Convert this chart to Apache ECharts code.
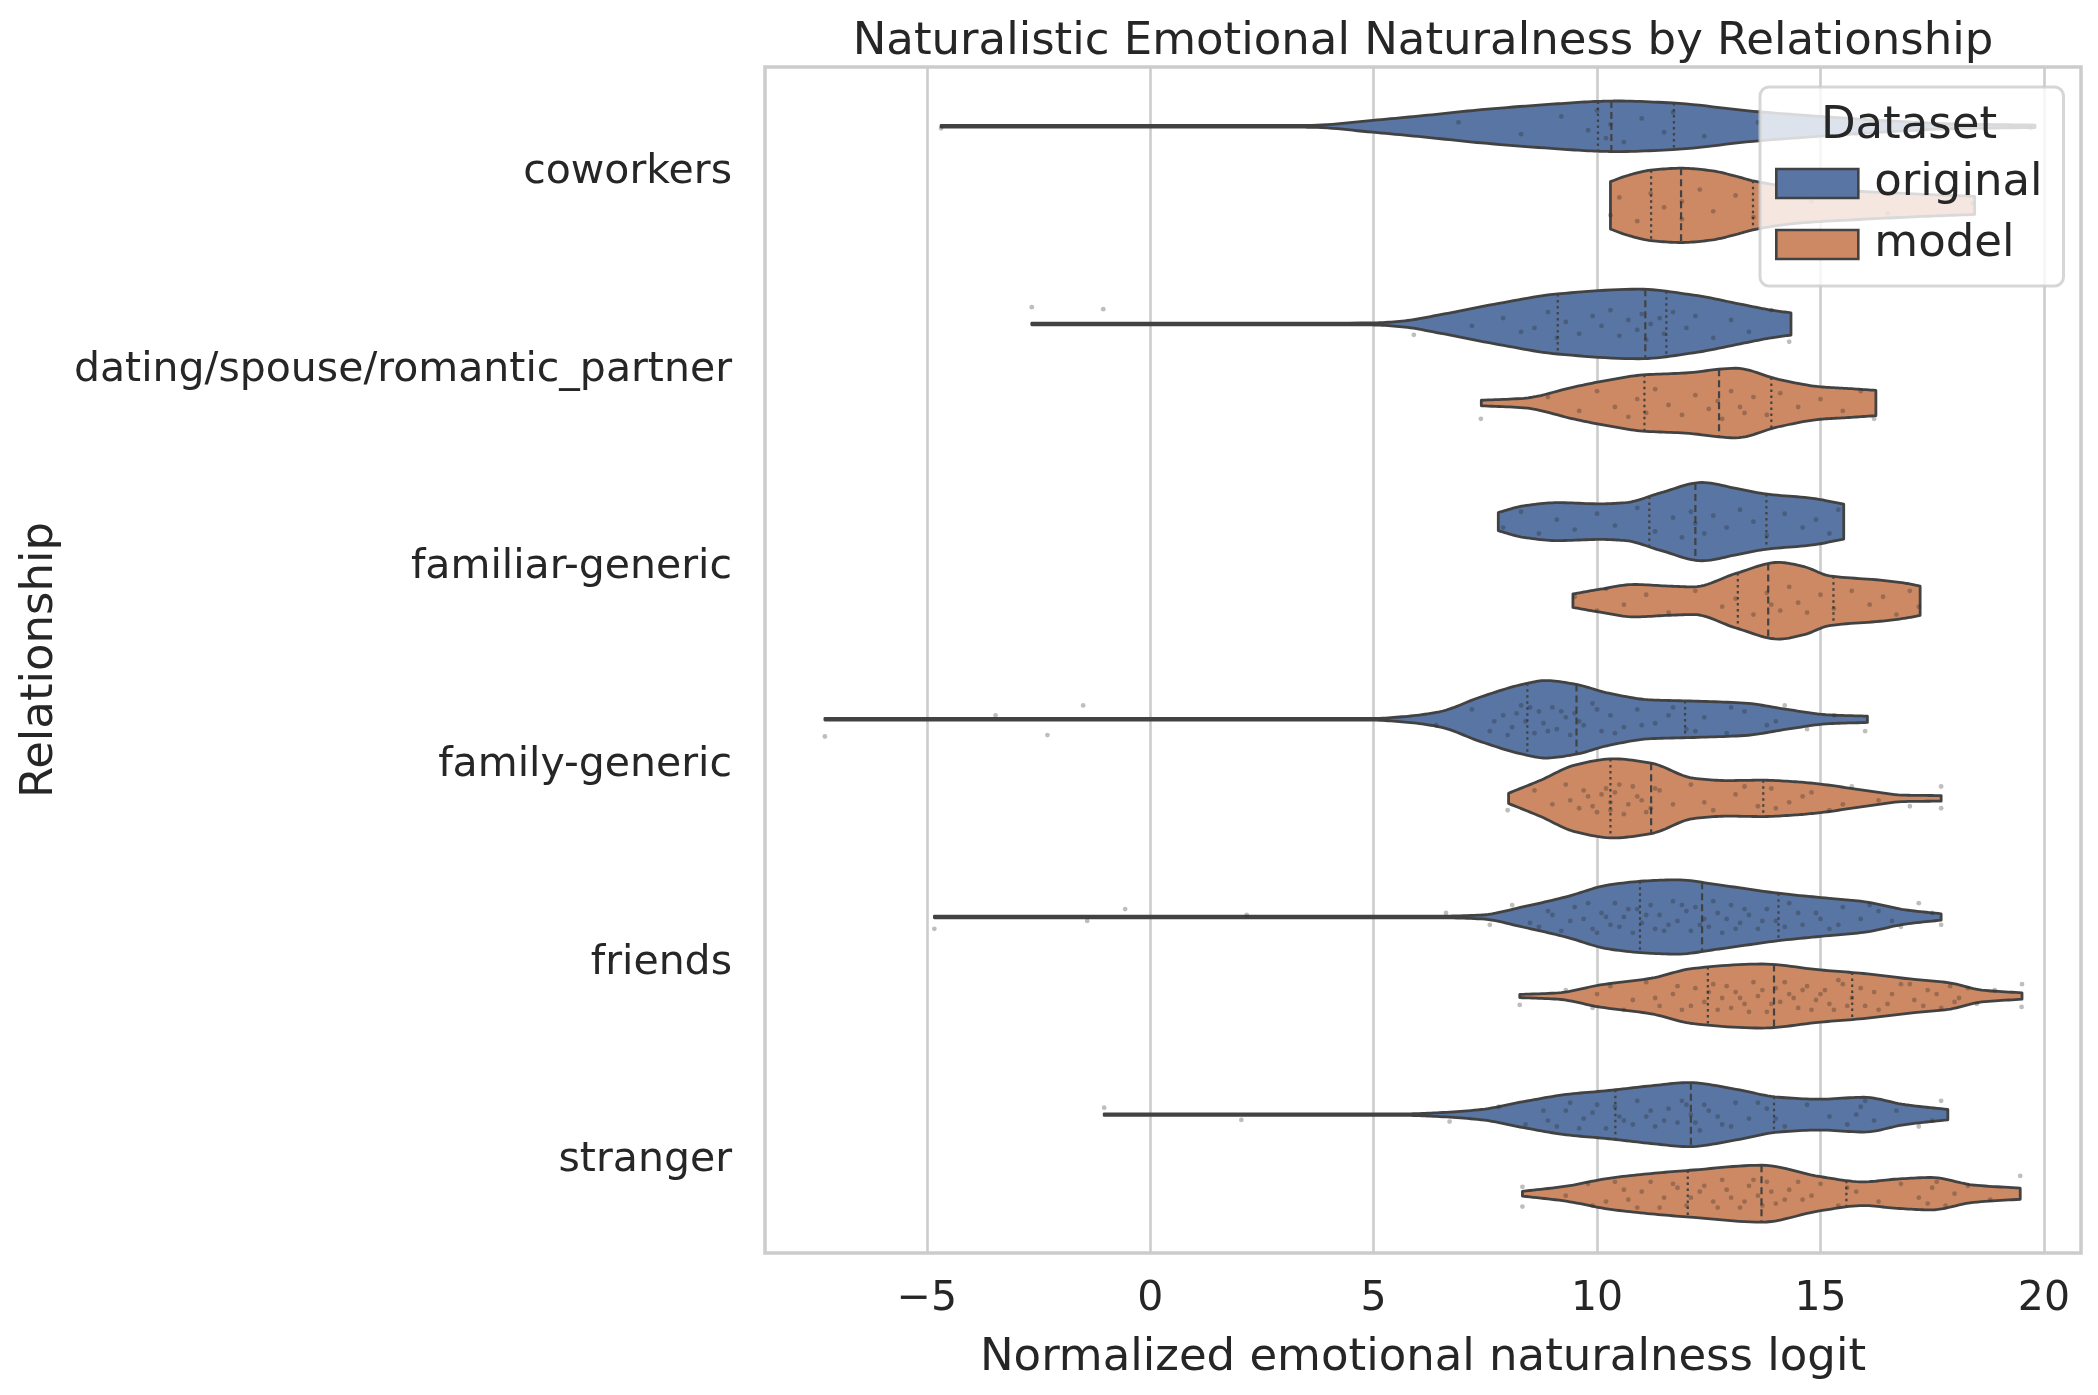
<!DOCTYPE html>
<html>
<head>
<meta charset="utf-8">
<script src="https://cdn.jsdelivr.net/npm/echarts@6/dist/echarts.min.js"></script>
<style>
html,body{margin:0;padding:0;background:#fff;}
#main{width:2098px;height:1395px;}
</style>
</head>
<body>
<div id="main"></div>
<script>
// categories and hues
var categories = ['coworkers', 'dating/spouse/romantic_partner', 'familiar-generic', 'family-generic', 'friends', 'stranger'];
var hueNames = ['original', 'model'];
var hueColors = ['#5875a3', '#cc8963'];
var xTicks = [-5, 0, 5, 10, 15, 20];

// violin outlines: [logit value, relative half width (1 = full dodge width)]
var cwOrig = [[-4.68,0.02],[0.0,0.02],[3.0,0.02],[3.62,0.025],[4.98,0.15],[6.2,0.28],[7.41,0.42],[9.12,0.57],[10.02,0.63],[10.45,0.64],[11.69,0.59],[13.49,0.38],[15.0,0.25],[16.5,0.14],[18.0,0.06],[19.8,0.03]];
var cwModel = [[10.3,0.6],[10.64,0.74],[11.2,0.89],[11.88,0.94],[12.54,0.88],[13.1,0.74],[13.49,0.62],[14.5,0.45],[16.0,0.35],[17.3,0.28],[18.45,0.23]];
var dtOrig = [[-2.65,0.02],[2.0,0.02],[4.95,0.025],[5.7,0.08],[6.47,0.23],[7.8,0.52],[9.12,0.76],[10.93,0.88],[12.16,0.73],[13.3,0.48],[13.9,0.35],[14.34,0.28]];
var dtModel = [[7.41,0.07],[8.36,0.12],[9.5,0.41],[10.26,0.58],[11.02,0.71],[11.97,0.76],[13.1,0.88],[14.06,0.6],[15.0,0.41],[15.58,0.37],[16.24,0.32]];
var fmOrig = [[7.79,0.23],[8.36,0.4],[9.12,0.48],[10.07,0.45],[10.64,0.48],[11.4,0.72],[12.35,0.99],[13.11,0.84],[13.77,0.7],[14.82,0.59],[15.52,0.44]];
var fmModel = [[9.46,0.17],[10.07,0.29],[10.83,0.41],[11.59,0.37],[12.16,0.35],[13.11,0.69],[14.06,0.97],[14.63,0.86],[15.2,0.63],[16.34,0.52],[16.91,0.44],[17.23,0.37]];
var fyOrig = [[-7.28,0.02],[0.0,0.02],[4.95,0.02],[5.7,0.07],[6.47,0.19],[7.41,0.57],[8.36,0.89],[8.84,0.98],[9.5,0.89],[10.26,0.66],[11.21,0.49],[12.16,0.46],[13.3,0.41],[14.25,0.25],[15.2,0.11],[16.05,0.08]];
var fyModel = [[8.02,0.13],[8.74,0.46],[9.5,0.84],[10.36,1.0],[11.21,0.89],[12.16,0.51],[12.92,0.45],[13.68,0.46],[14.44,0.42],[15.0,0.36],[15.95,0.21],[16.9,0.08],[17.7,0.07]];
var frOrig = [[-4.83,0.02],[0.0,0.02],[6.47,0.02],[7.41,0.05],[8.36,0.26],[9.31,0.51],[10.26,0.81],[11.21,0.92],[11.78,0.94],[12.73,0.81],[14.06,0.6],[15.2,0.47],[15.96,0.39],[16.9,0.18],[17.7,0.08]];
var frModel = [[8.27,0.04],[9.12,0.08],[10.07,0.28],[11.21,0.45],[12.16,0.7],[13.68,0.81],[15.0,0.66],[15.96,0.57],[17.1,0.42],[17.85,0.34],[18.61,0.15],[19.51,0.08]];
var stOrig = [[-1.03,0.02],[5.7,0.02],[6.47,0.05],[7.41,0.13],[8.36,0.33],[9.31,0.51],[10.26,0.61],[11.21,0.73],[12.06,0.81],[13.11,0.64],[14.06,0.44],[15.0,0.39],[15.96,0.44],[16.9,0.25],[17.85,0.13]];
var stModel = [[8.33,0.06],[9.31,0.19],[10.26,0.39],[11.21,0.51],[12.16,0.6],[13.68,0.72],[15.0,0.43],[15.96,0.3],[16.71,0.37],[17.47,0.41],[18.42,0.22],[19.47,0.14]];

// quartiles [q1, median, q3]
var cwOrigQ = [10.02, 10.32, 11.72];
var cwModelQ = [11.21, 11.88, 13.49];
var dtOrigQ = [9.12, 11.08, 11.55];
var dtModelQ = [11.06, 12.73, 13.9];
var fmOrigQ = [11.17, 12.2, 13.79];
var fmModelQ = [13.15, 13.83, 15.29];
var fyOrigQ = [8.44, 9.54, 11.97];
var fyModelQ = [10.3, 11.21, 13.72];
var frOrigQ = [10.96, 12.35, 14.06];
var frModelQ = [12.48, 13.96, 15.71];
var stOrigQ = [10.41, 12.1, 13.96];
var stModelQ = [12.03, 13.68, 15.58];

// strip points: [logit value, jitter (-1..1)]
var cwOrigPts = [[-4.68,0.1],[6.9,-0.2],[8.3,0.4],[9.2,-0.5],[9.8,0.2],[10.0,-0.8],[10.2,0.6],[10.3,-0.1],[10.6,0.8],[11.0,-0.4],[11.5,0.3],[11.7,-0.7],[12.4,0.5],[13.6,-0.2],[15.8,0.4],[17.2,-0.3],[19.7,0.1]];
var cwModelPts = [[10.3,0.5],[10.5,-0.4],[10.9,0.8],[11.2,-0.6],[11.5,0.1],[11.9,0.7],[11.9,-0.2],[12.3,-0.8],[12.6,0.3],[13.1,-0.5],[13.5,0.6],[14.8,-0.2],[16.5,0.4],[18.4,-0.1]];
var dtOrigPts = [[-2.65,-0.85],[-1.05,-0.75],[5.9,0.55],[7.2,0.1],[7.9,-0.3],[8.3,0.4],[8.6,0.2],[8.9,-0.6],[9.1,0.7],[9.3,-0.1],[9.6,0.5],[9.9,-0.4],[10.1,0.1],[10.3,-0.7],[10.5,0.6],[10.7,-0.2],[10.9,0.3],[11.0,-0.5],[11.1,0.8],[11.2,0.0],[11.4,-0.3],[11.5,0.5],[11.7,-0.6],[12.0,0.2],[12.2,-0.4],[12.6,0.7],[13.0,-0.2],[13.4,0.4],[13.9,-0.7],[14.3,0.9]];
var dtModelPts = [[7.4,0.8],[8.9,-0.3],[9.6,0.4],[10.0,-0.6],[10.4,0.2],[10.7,0.7],[10.9,-0.2],[11.1,0.5],[11.3,-0.7],[11.6,0.1],[11.9,0.6],[12.2,-0.4],[12.5,0.3],[12.7,-0.1],[12.8,0.8],[13.0,-0.6],[13.2,0.2],[13.3,0.5],[13.5,-0.3],[13.8,0.6],[14.1,-0.5],[14.5,0.2],[15.0,-0.2],[15.5,0.4],[15.9,-0.6],[16.2,0.8]];
var fmOrigPts = [[7.9,0.3],[8.3,-0.5],[8.7,0.6],[9.1,-0.1],[9.5,0.4],[10.0,-0.4],[10.4,0.2],[10.9,-0.7],[11.3,0.5],[11.7,-0.2],[11.9,0.8],[12.1,-0.5],[12.2,0.1],[12.4,0.6],[12.6,-0.3],[12.9,0.3],[13.2,-0.6],[13.5,0.0],[13.8,0.7],[14.2,-0.4],[14.6,0.3],[14.9,-0.1],[15.2,0.6],[15.4,-0.6]];
var fmModelPts = [[9.5,-0.2],[10.0,0.5],[10.2,-0.6],[10.6,0.2],[11.1,-0.3],[11.6,0.6],[12.2,-0.5],[12.8,0.3],[13.1,-0.1],[13.5,0.7],[13.8,-0.4],[13.9,0.2],[14.1,0.5],[14.3,-0.7],[14.5,0.1],[14.7,0.6],[15.0,-0.3],[15.3,0.4],[15.7,-0.5],[16.1,0.2],[16.4,-0.2],[16.7,0.7],[17.0,-0.5],[17.2,0.3]];
var fyOrigPts = [[-7.28,0.87],[-3.46,-0.2],[-2.3,0.8],[-1.5,-0.7],[6.4,0.3],[7.2,-0.5],[7.6,0.6],[7.9,-0.2],[8.1,0.4],[8.3,-0.7],[8.4,0.1],[8.6,0.7],[8.7,-0.4],[8.8,0.2],[9.0,-0.6],[9.1,0.5],[9.3,-0.1],[9.4,0.8],[9.5,-0.3],[9.7,0.3],[9.9,-0.8],[10.1,0.6],[10.3,-0.2],[10.6,0.4],[10.9,-0.5],[11.3,0.2],[11.7,-0.6],[12.0,0.5],[12.4,-0.1],[12.9,0.7],[13.3,-0.4],[13.8,0.3],[14.2,-0.7],[14.7,0.5],[15.3,-0.2],[16.0,0.6],
  [7.7,0.1],[8.0,0.8],[8.2,-0.3],[8.5,-0.6],[8.9,0.6],[9.2,-0.4],[9.6,0.1],[10.0,-0.5],[10.4,0.7],[11.0,0.3],[11.6,-0.2],[12.2,0.6],[13.0,-0.6],[14.0,0.1]];
var fyModelPts = [[8.0,0.6],[8.6,-0.4],[9.0,0.3],[9.3,-0.7],[9.6,0.5],[9.8,-0.1],[10.0,0.7],[10.2,-0.5],[10.3,0.2],[10.4,-0.3],[10.6,0.8],[10.8,-0.6],[11.0,0.1],[11.2,0.5],[11.4,-0.4],[11.7,0.3],[12.1,-0.7],[12.6,0.6],[13.1,-0.2],[13.6,0.4],[13.9,-0.5],[14.3,0.2],[14.8,-0.3],[15.2,0.6],[15.7,-0.6],[16.3,0.1],[17.0,0.4],[17.7,-0.6],[17.7,0.5],
  [9.4,0.1],[9.7,-0.4],[9.9,0.4],[10.1,-0.2],[10.3,0.6],[10.5,-0.7],[10.7,0.3],[10.9,-0.1],[11.1,0.7],[11.3,-0.5],[12.4,0.2],[13.3,-0.6],[14.0,0.5],[14.6,-0.1],[15.5,0.3]];
var frOrigPts = [[-4.83,0.6],[-1.41,0.2],[-0.56,-0.4],[2.16,-0.1],[6.62,-0.2],[7.6,0.4],[8.1,-0.6],[8.5,0.3],[8.9,-0.3],[9.2,0.7],[9.5,-0.5],[9.7,0.1],[9.9,0.6],[10.1,-0.2],[10.3,0.4],[10.4,-0.7],[10.6,0.0],[10.8,0.8],[10.9,-0.4],[11.0,0.3],[11.2,-0.6],[11.3,0.6],[11.4,-0.1],[11.6,0.4],[11.7,-0.8],[11.8,0.2],[12.0,-0.3],[12.1,0.7],[12.2,-0.5],[12.4,0.1],[12.5,0.5],[12.7,-0.2],[12.8,0.8],[13.0,-0.6],[13.2,0.3],[13.4,-0.1],[13.6,0.6],[13.8,-0.4],[14.0,0.2],[14.3,-0.7],[14.6,0.4],[14.9,-0.2],[15.2,0.6],[15.5,-0.5],[15.9,0.1],[16.3,-0.3],[16.8,0.5],[17.2,-0.7],[17.7,0.4],
  [8.7,0.5],[9.0,-0.1],[9.4,0.2],[9.8,-0.7],[10.0,0.8],[10.2,0.0],[10.5,0.5],[10.7,-0.4],[11.1,-0.1],[11.5,0.7],[11.9,-0.6],[12.3,0.4],[12.6,-0.8],[12.9,0.1],[13.1,0.6],[13.3,-0.4],[13.7,0.2],[14.2,0.5],[14.5,-0.2],[15.0,0.1],[15.4,0.4],[16.1,-0.6],[16.6,0.2],[17.5,-0.2]];
var frModelPts = [[8.27,0.45],[9.3,-0.3],[9.9,0.6],[10.3,-0.5],[10.8,0.2],[11.1,-0.7],[11.4,0.5],[11.7,-0.1],[11.9,0.7],[12.2,-0.4],[12.4,0.3],[12.6,-0.6],[12.8,0.1],[13.0,0.6],[13.1,-0.2],[13.3,0.4],[13.5,-0.7],[13.6,0.0],[13.8,0.8],[14.0,-0.4],[14.1,0.3],[14.3,-0.1],[14.5,0.6],[14.7,-0.5],[14.9,0.2],[15.1,-0.3],[15.3,0.7],[15.5,-0.6],[15.7,0.1],[16.0,0.5],[16.2,-0.2],[16.5,0.4],[16.8,-0.6],[17.1,0.2],[17.4,-0.3],[17.7,0.6],[17.9,-0.5],[18.1,0.1],[18.5,0.4],[18.9,-0.3],[19.51,-0.6],[19.5,0.55],
  [10.0,-0.1],[10.6,0.7],[11.3,0.1],[11.8,-0.5],[12.1,0.5],[12.5,-0.2],[12.7,0.7],[12.9,-0.5],[13.2,0.1],[13.4,0.8],[13.7,-0.3],[13.9,0.4],[14.2,-0.7],[14.4,0.1],[14.6,-0.3],[14.8,0.7],[15.0,-0.1],[15.2,0.4],[15.4,-0.8],[15.6,0.5],[15.9,-0.4],[16.3,0.7],[16.6,-0.1],[17.0,-0.6],[17.3,0.5],[17.6,-0.1],[18.0,0.3],[18.3,-0.4]];
var stOrigPts = [[-1.03,-0.35],[2.04,0.27],[6.7,0.35],[7.8,-0.4],[8.4,0.5],[8.8,-0.2],[9.1,0.6],[9.4,-0.6],[9.7,0.2],[9.9,-0.1],[10.2,0.7],[10.4,-0.4],[10.6,0.3],[10.9,-0.7],[11.1,0.1],[11.3,0.6],[11.6,-0.3],[11.8,0.4],[12.0,-0.5],[12.1,0.0],[12.3,0.8],[12.5,-0.2],[12.8,0.5],[13.1,-0.6],[13.4,0.2],[13.8,-0.3],[14.2,0.6],[14.7,-0.5],[15.2,0.1],[15.6,0.5],[15.9,-0.4],[16.2,0.3],[16.7,-0.2],[17.2,0.6],[17.7,-0.7],
  [8.9,0.3],[9.3,-0.2],[9.6,0.7],[10.0,-0.5],[10.5,0.1],[10.8,0.5],[11.2,-0.2],[11.5,0.3],[11.9,-0.7],[12.2,0.4],[12.4,-0.5],[12.7,0.1],[13.0,0.6],[13.6,-0.6],[14.0,0.2],[15.8,0.0],[16.0,-0.7],[17.5,0.3]];
var stModelPts = [[8.33,-0.35],[8.33,0.65],[9.3,0.1],[9.8,-0.5],[10.2,0.4],[10.6,-0.2],[10.9,0.7],[11.2,-0.6],[11.5,0.2],[11.8,-0.3],[12.0,0.6],[12.3,-0.1],[12.6,0.4],[12.8,-0.7],[13.0,0.2],[13.2,0.7],[13.4,-0.4],[13.6,0.1],[13.8,-0.6],[14.0,0.5],[14.3,-0.2],[14.6,0.3],[15.0,-0.5],[15.4,0.6],[15.8,-0.1],[16.3,0.4],[16.8,-0.5],[17.2,0.2],[17.5,-0.3],[17.8,0.6],[18.3,-0.4],[18.8,0.3],[19.47,-0.9],
  [9.9,0.6],[10.4,-0.6],[10.7,0.3],[11.0,-0.1],[11.4,0.7],[11.7,-0.5],[12.1,0.2],[12.4,-0.4],[12.7,0.7],[12.9,-0.2],[13.3,0.4],[13.5,-0.7],[13.7,0.6],[13.9,-0.1],[14.2,0.3],[14.5,-0.6],[14.8,0.1],[15.6,-0.3],[17.4,0.5],[17.6,-0.6],[18.0,0.0]];

var shapes = [[cwOrig, dtOrig, fmOrig, fyOrig, frOrig, stOrig], [cwModel, dtModel, fmModel, fyModel, frModel, stModel]];
var quarts = [[cwOrigQ, dtOrigQ, fmOrigQ, fyOrigQ, frOrigQ, stOrigQ], [cwModelQ, dtModelQ, fmModelQ, fyModelQ, frModelQ, stModelQ]];
var strips = [[cwOrigPts, dtOrigPts, fmOrigPts, fyOrigPts, frOrigPts, stOrigPts], [cwModelPts, dtModelPts, fmModelPts, fyModelPts, frModelPts, stModelPts]];

var edgeColor = '#424242';
var textColor = '#262626';
var fontName = 'DejaVu Sans';

// monotone cubic smoothing of an outline (pixel space)
function smoothEdge(p) {
  var n = p.length, i, k;
  var xs = p.map(function (d) { return d[0]; });
  var ys = p.map(function (d) { return d[1]; });
  var m = [], t = [];
  for (i = 0; i < n - 1; i++) m.push((ys[i + 1] - ys[i]) / ((xs[i + 1] - xs[i]) || 1e-6));
  t[0] = m[0]; t[n - 1] = m[n - 2];
  for (i = 1; i < n - 1; i++) {
    if (m[i - 1] * m[i] <= 0) { t[i] = 0; }
    else {
      var h0 = xs[i] - xs[i - 1], h1 = xs[i + 1] - xs[i];
      var w1 = 2 * h1 + h0, w2 = h1 + 2 * h0;
      t[i] = (w1 + w2) / (w1 / m[i - 1] + w2 / m[i]);
    }
  }
  var out = [];
  for (i = 0; i < n - 1; i++) {
    var h = xs[i + 1] - xs[i];
    for (k = 0; k < 12; k++) {
      var s = k / 12, s2 = s * s, s3 = s2 * s;
      var y = (2 * s3 - 3 * s2 + 1) * ys[i] + (s3 - 2 * s2 + s) * h * t[i] + (-2 * s3 + 3 * s2) * ys[i + 1] + (s3 - s2) * h * t[i + 1];
      out.push([xs[i] + s * h, Math.max(y, 0.8)]);
    }
  }
  out.push([xs[n - 1], Math.max(ys[n - 1], 0.8)]);
  return out;
}

function widthAt(edge, x) {
  for (var i = 0; i < edge.length - 1; i++) {
    if (x >= edge[i][0] && x <= edge[i + 1][0]) {
      var f = (x - edge[i][0]) / ((edge[i + 1][0] - edge[i][0]) || 1);
      return edge[i][1] + f * (edge[i + 1][1] - edge[i][1]);
    }
  }
  return 0;
}

function violinRenderer(hue) {
  return function (params, api) {
    var ci = api.value(0);
    var band = api.size([0, 1])[1];
    var cy = api.coord([0, ci])[1] + (hue === 0 ? -0.2 : 0.2) * band;
    var half = 0.2 * band;
    var px = shapes[hue][ci].map(function (d) {
      return [api.coord([d[0], ci])[0], d[1] * half];
    });
    var edge = smoothEdge(px);
    var poly = [], i;
    for (i = 0; i < edge.length; i++) poly.push([edge[i][0], cy - edge[i][1]]);
    for (i = edge.length - 1; i >= 0; i--) poly.push([edge[i][0], cy + edge[i][1]]);
    var children = [{
      type: 'polygon',
      shape: { points: poly },
      style: { fill: hueColors[hue], stroke: edgeColor, lineWidth: 2.8, lineJoin: 'round' }
    }];
    quarts[hue][ci].forEach(function (q, k) {
      var x = api.coord([q, ci])[0];
      var w = widthAt(edge, x);
      children.push({
        type: 'line',
        shape: { x1: x, y1: cy - w, x2: x, y2: cy + w },
        style: { stroke: edgeColor, lineWidth: 2.2, lineDash: k === 1 ? [7, 4] : [2.5, 3.5] }
      });
    });
    return { type: 'group', children: children };
  };
}

function stripRenderer(params, api) {
  var p = api.coord([api.value(0), api.value(1)]);
  var band = api.size([0, 1])[1];
  var hue = api.value(2);
  var cy = p[1] + (hue === 0 ? -0.2 : 0.2) * band + api.value(3) * 0.1 * band;
  return { type: 'circle', shape: { cx: p[0], cy: cy, r: 2.4 }, style: { fill: 'rgba(40,40,40,0.3)' } };
}

var stripData = [];
strips.forEach(function (byCat, hue) {
  byCat.forEach(function (list, ci) {
    list.forEach(function (d) { stripData.push([d[0], ci, hue, d[1]]); });
  });
});

var myChart = echarts.init(document.getElementById('main'));

var option = {
  animation: false,
  backgroundColor: '#ffffff',
  title: {
    text: 'Naturalistic Emotional Naturalness by Relationship',
    left: 1423,
    top: 20,
    textAlign: 'center',
    padding: 0,
    textStyle: { fontSize: 45, fontWeight: 'normal', color: textColor, fontFamily: fontName }
  },
  legend: {
    orient: 'vertical',
    left: 1760,
    top: 87,
    padding: [74, 21, 19, 15],
    itemWidth: 82,
    itemHeight: 29,
    itemGap: 16,
    backgroundColor: 'rgba(255,255,255,0.8)',
    borderColor: 'rgba(204,204,204,0.8)',
    borderWidth: 3,
    borderRadius: 9,
    textStyle: { fontSize: 45, color: textColor, fontFamily: fontName, padding: [0, 0, 0, 11] },
    data: [
      { name: 'original', icon: 'rect', itemStyle: { color: hueColors[0], borderColor: edgeColor, borderWidth: 2.6 } },
      { name: 'model', icon: 'rect', itemStyle: { color: hueColors[1], borderColor: edgeColor, borderWidth: 2.6 } }
    ]
  },
  graphic: [{
    type: 'text',
    z: 100,
    x: 1909,
    y: 104,
    style: { text: 'Dataset', fontSize: 45, fill: textColor, fontFamily: fontName, align: 'center', verticalAlign: 'top' }
  }],
  grid: {
    left: 765, right: 17, top: 67, bottom: 142,
    show: true, borderColor: '#cccccc', borderWidth: 3.5, backgroundColor: 'transparent'
  },
  xAxis: {
    type: 'value',
    min: -8.62,
    max: 20.83,
    name: 'Normalized emotional naturalness logit',
    nameLocation: 'middle',
    nameGap: 83,
    nameTextStyle: { fontSize: 45, color: textColor, fontFamily: fontName },
    axisLine: { show: false },
    axisTick: { show: false, customValues: xTicks },
    axisLabel: {
      customValues: xTicks,
      margin: 26,
      fontSize: 41, color: textColor, fontFamily: fontName,
      formatter: function (v) { return v < 0 ? '\u2212' + Math.abs(v) : String(v); }
    },
    splitLine: { show: true, lineStyle: { color: '#cccccc', width: 2.6 } }
  },
  yAxis: {
    type: 'category',
    data: categories,
    inverse: true,
    name: 'Relationship',
    nameLocation: 'middle',
    nameGap: 696,
    nameRotate: 90,
    nameTextStyle: { fontSize: 45, color: textColor, fontFamily: fontName },
    axisLine: { show: false },
    axisTick: { show: false },
    splitLine: { show: false },
    axisLabel: {
      margin: 33,
      formatter: '{c|{value}}',
      rich: { c: { fontSize: 41, color: textColor, fontFamily: fontName, padding: [13, 0, 0, 0] } }
    }
  },
  series: [
    {
      name: 'original', type: 'custom', renderItem: violinRenderer(0), z: 2,
      itemStyle: { color: hueColors[0], borderColor: edgeColor },
      encode: { y: 0 }, data: [[0], [1], [2], [3], [4], [5]]
    },
    {
      name: 'model', type: 'custom', renderItem: violinRenderer(1), z: 2,
      itemStyle: { color: hueColors[1], borderColor: edgeColor },
      encode: { y: 0 }, data: [[0], [1], [2], [3], [4], [5]]
    },
    {
      name: 'points', type: 'custom', renderItem: stripRenderer, z: 3,
      encode: { x: 0, y: 1 }, data: stripData
    }
  ]
};

myChart.setOption(option);
</script>
</body>
</html>
